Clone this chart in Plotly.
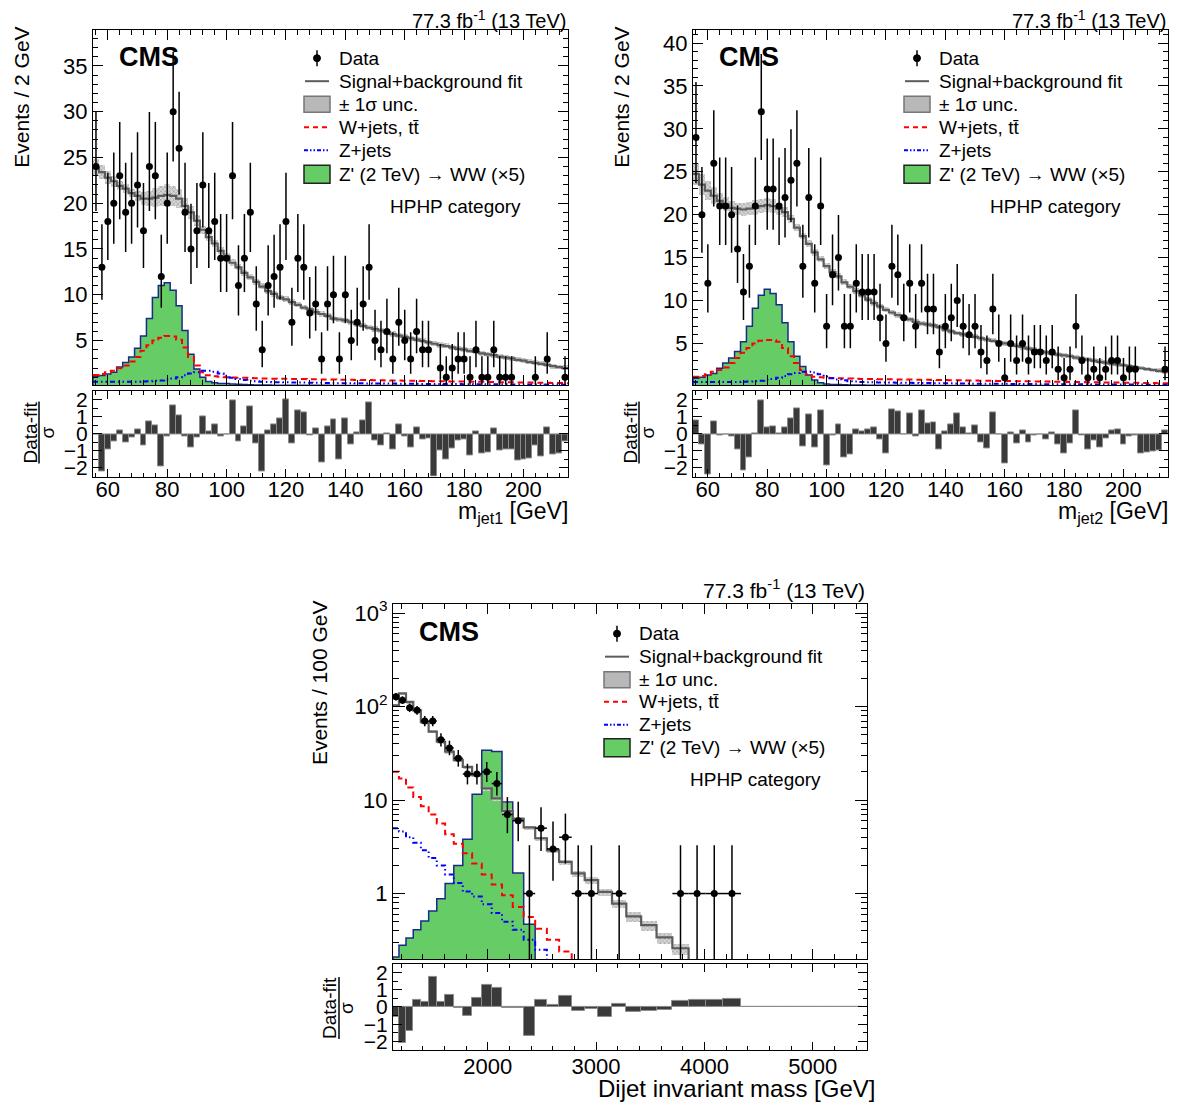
import math
import plotly.graph_objects as go

W, H = 1180, 1106
PADX = 8                    # horizontal page offset of the figure
SY, OY = 0.991, 14          # measured vertical mapping of the photographed page
FW, FH = W - 2 * PADX, 1100
FONT = "Liberation Sans, Arial, Helvetica, sans-serif"

# ---------------- top panels: m_jet in 2 GeV bins, 55-215 GeV ----------------
MJ_LO, MJ_BW, MJ_N = 55, 2, 80

tl_data = [24, 13, 18, 20, 23, 19, 20, 22, 17, 24,
           23, 12, 20, 30, 26, 19, 15, 17, 22, 17,
           18, 14, 14, 23, 11, 14, 19, 9, 4, 11,
           12, 13, 18, 7, 14, 13, 8, 9, 3, 9,
           10, 3, 10, 5, 7, 9, 13, 5, 4, 6,
           3, 7, 5, 3, 6, 4, 4, 0, 2, 1,
           2, 3, 3, 1, 4, 1, 1, 4, 1, 1,
           1, 0, 0, 0, 1, 0, 3, 0, 0, 1]
tl_fit = [23.9, 23.4, 22.8, 22.4, 21.9, 21.6, 21.1, 20.8, 20.5, 20.5,
          20.6, 20.8, 20.9, 20.8, 20.5, 19.7, 19.0, 18.1, 17.1, 16.3,
          15.6, 14.8, 14.2, 13.5, 13.0, 12.4, 11.9, 11.4, 10.9, 10.4,
          10.1, 9.7, 9.5, 9.2, 8.9, 8.6, 8.4, 8.1, 7.9, 7.7,
          7.4, 7.3, 7.2, 7.0, 6.8, 6.6, 6.4, 6.25, 6.1, 5.9,
          5.7, 5.55, 5.4, 5.25, 5.1, 4.95, 4.8, 4.65, 4.5, 4.4,
          4.25, 4.1, 4.0, 3.85, 3.75, 3.6, 3.5, 3.4, 3.25, 3.15,
          3.05, 2.9, 2.8, 2.65, 2.55, 2.45, 2.35, 2.2, 2.1, 2.0]
tl_unc = [0.9, 0.8, 0.7, 0.6, 0.5, 0.45, 0.45, 0.55, 0.7, 0.85,
          1.0, 1.1, 1.15, 1.1, 1.0, 0.85, 0.7, 0.55, 0.45, 0.4,
          0.38, 0.36, 0.35, 0.35, 0.34, 0.34, 0.33, 0.33, 0.32, 0.32,
          0.32, 0.31, 0.31, 0.31, 0.3, 0.3, 0.3, 0.3, 0.29, 0.29,
          0.29, 0.29, 0.28, 0.28, 0.28, 0.28, 0.28, 0.28, 0.28, 0.28,
          0.28, 0.28, 0.28, 0.28, 0.28, 0.28, 0.28, 0.28, 0.28, 0.28,
          0.27, 0.27, 0.27, 0.27, 0.27, 0.27, 0.27, 0.27, 0.27, 0.27,
          0.27, 0.27, 0.27, 0.27, 0.27, 0.27, 0.27, 0.27, 0.27, 0.27]
tl_sig = [1.1, 1.18, 1.36, 1.55, 2.1, 2.6, 3.2, 4.15, 5.5, 7.4,
          9.7, 11.0, 11.3, 10.5, 8.8, 6.1, 3.5, 1.9, 1.0, 0.52,
          0.4, 0.3, 0.3, 0.25, 0.22, 0.2, 0.18, 0.16, 0.15, 0.14,
          0.12, 0.12, 0.12, 0.12, 0.12, 0.12, 0.12, 0.12, 0.12, 0.12,
          0.1, 0.1, 0.1, 0.1, 0.1, 0.1, 0.1, 0.1, 0.1, 0.1,
          0.08, 0.08, 0.08, 0.08, 0.08, 0.08, 0.08, 0.08, 0.08, 0.08,
          0.06, 0.06, 0.06, 0.06, 0.06, 0.06, 0.06, 0.06, 0.06, 0.06,
          0.05, 0.05, 0.05, 0.05, 0.05, 0.05, 0.05, 0.05, 0.05, 0.05]
tl_wjets = [1.25, 1.36, 1.55, 1.7, 1.98, 2.27, 2.7, 3.2, 3.9, 4.5,
            5.0, 5.3, 5.5, 5.45, 5.1, 4.25, 3.2, 2.27, 1.55, 1.2,
            1.1, 1.05, 1.0, 0.97, 0.95, 0.93, 0.9, 0.88, 0.86, 0.85,
            0.84, 0.83, 0.82, 0.81, 0.8, 0.79, 0.78, 0.77, 0.76, 0.75,
            0.74, 0.73, 0.72, 0.71, 0.7, 0.69, 0.68, 0.67, 0.66, 0.65,
            0.64, 0.63, 0.62, 0.61, 0.6, 0.59, 0.58, 0.57, 0.56, 0.55,
            0.54, 0.53, 0.52, 0.51, 0.5, 0.49, 0.48, 0.47, 0.46, 0.45,
            0.44, 0.43, 0.42, 0.41, 0.4, 0.39, 0.38, 0.37, 0.36, 0.35]
tl_zjets = [0.5, 0.5, 0.5, 0.5, 0.5, 0.5, 0.5, 0.5, 0.52, 0.55,
            0.6, 0.65, 0.75, 0.85, 1.0, 1.2, 1.4, 1.55, 1.7, 1.7,
            1.6, 1.4, 1.15, 0.95, 0.8, 0.7, 0.6, 0.55, 0.5, 0.48,
            0.46, 0.45, 0.44, 0.43, 0.42, 0.41, 0.4, 0.39, 0.38, 0.37,
            0.36, 0.35, 0.35, 0.34, 0.33, 0.33, 0.32, 0.31, 0.31, 0.3,
            0.3, 0.29, 0.29, 0.28, 0.28, 0.27, 0.27, 0.26, 0.26, 0.25,
            0.25, 0.25, 0.24, 0.24, 0.23, 0.23, 0.23, 0.22, 0.22, 0.22,
            0.21, 0.21, 0.21, 0.2, 0.2, 0.2, 0.19, 0.19, 0.19, 0.18]
tl_pull = [0.0, -2.21, -0.90, -0.43, 0.23, -0.48, -0.20, 0.26, -0.67, 0.72,
           0.50, -1.93, -0.16, 1.68, 1.08, -0.13, -0.81, -0.21, 1.05, 0.17,
           0.57, -0.17, -0.04, 1.99, -0.45, 0.43, 1.64, -0.58, -2.18, 0.18,
           0.56, 0.93, 2.02, -0.58, 1.38, 1.24, -0.10, 0.31, -1.68, 0.44,
           0.84, -1.47, 0.90, -0.59, 0.08, 0.82, 1.85, -0.37, -0.66, 0.04,
           -0.92, 0.56, -0.12, -0.77, 0.38, -0.30, -0.25, -2.5, -0.95, -1.48,
           -0.85, -0.38, -0.34, -1.24, 0.13, -1.13, -1.09, 0.31, -0.98, -0.93,
           -0.89, -1.58, -1.52, -1.44, -0.67, -1.33, 0.40, -1.20, -1.14, -0.43]

tr_data = [29, 20, 12, 26, 21, 21, 20, 16, 11, 14,
           21, 32, 23, 23, 21, 22, 24, 26, 14, 22,
           12, 21, 7, 13, 15, 7, 7, 12, 11, 11,
           11, 8, 5, 14, 13, 8, 12, 7, 12, 9,
           9, 4, 7, 8, 10, 7, 6, 7, 4, 3,
           9, 5, 1, 5, 3, 5, 3, 4, 4, 3,
           4, 2, 1, 2, 7, 3, 1, 2, 1, 2,
           3, 3, 1, 2, 2, 0, 0, 0, 0, 2]
tr_fit = [24.75, 23.5, 22.8, 22.2, 21.6, 21.2, 20.8, 20.7, 20.6, 20.7,
          20.8, 21.0, 21.1, 21.0, 20.7, 20.3, 19.5, 18.5, 17.5, 16.6,
          15.6, 14.8, 14.0, 13.3, 12.8, 12.1, 11.6, 11.1, 10.6, 10.1,
          9.7, 9.3, 8.9, 8.6, 8.3, 8.0, 7.8, 7.5, 7.3, 7.2,
          7.1, 6.9, 6.6, 6.4, 6.2, 6.05, 5.9, 5.75, 5.6, 5.45,
          5.3, 5.15, 5.0, 4.85, 4.7, 4.55, 4.4, 4.25, 4.1, 3.95,
          3.8, 3.7, 3.6, 3.5, 3.35, 3.2, 3.1, 3.0, 2.85, 2.75,
          2.65, 2.55, 2.45, 2.35, 2.2, 2.1, 2.0, 1.9, 1.8, 1.7]
tr_unc = [1.3, 1.2, 1.1, 1.0, 0.9, 0.8, 0.75, 0.7, 0.75, 0.8,
          0.85, 0.85, 0.85, 0.8, 0.7, 0.6, 0.5, 0.45, 0.4, 0.4,
          0.38, 0.36, 0.35, 0.35, 0.34, 0.34, 0.33, 0.33, 0.32, 0.32,
          0.32, 0.31, 0.31, 0.31, 0.3, 0.3, 0.3, 0.3, 0.29, 0.29,
          0.29, 0.29, 0.28, 0.28, 0.28, 0.28, 0.28, 0.28, 0.28, 0.28,
          0.28, 0.28, 0.28, 0.28, 0.28, 0.28, 0.28, 0.28, 0.28, 0.28,
          0.27, 0.27, 0.27, 0.27, 0.27, 0.27, 0.27, 0.27, 0.27, 0.27,
          0.27, 0.27, 0.27, 0.27, 0.27, 0.27, 0.27, 0.27, 0.27, 0.27]
tr_sig = [0.94, 1.05, 1.32, 1.5, 2.1, 2.7, 3.3, 4.05, 5.2, 7.0,
          9.1, 10.6, 11.3, 10.8, 9.5, 7.4, 5.2, 3.5, 2.3, 1.32,
          0.74, 0.4, 0.27, 0.22, 0.2, 0.18, 0.16, 0.15, 0.14, 0.13,
          0.12, 0.12, 0.12, 0.12, 0.12, 0.12, 0.12, 0.12, 0.12, 0.12,
          0.1, 0.1, 0.1, 0.1, 0.1, 0.1, 0.1, 0.1, 0.1, 0.1,
          0.08, 0.08, 0.08, 0.08, 0.08, 0.08, 0.08, 0.08, 0.08, 0.08,
          0.06, 0.06, 0.06, 0.06, 0.06, 0.06, 0.06, 0.06, 0.06, 0.06,
          0.05, 0.05, 0.05, 0.05, 0.05, 0.05, 0.05, 0.05, 0.05, 0.05]
tr_wjets = [1.1, 1.2, 1.4, 1.7, 1.9, 2.2, 2.7, 3.3, 3.9, 4.45,
            5.0, 5.3, 5.4, 5.4, 5.2, 4.45, 3.5, 2.7, 1.9, 1.4,
            1.1, 1.05, 1.0, 0.97, 0.95, 0.93, 0.9, 0.88, 0.86, 0.85,
            0.84, 0.83, 0.82, 0.81, 0.8, 0.79, 0.78, 0.77, 0.76, 0.75,
            0.74, 0.73, 0.72, 0.71, 0.7, 0.69, 0.68, 0.67, 0.66, 0.65,
            0.64, 0.63, 0.62, 0.61, 0.6, 0.59, 0.58, 0.57, 0.56, 0.55,
            0.54, 0.53, 0.52, 0.51, 0.5, 0.49, 0.48, 0.47, 0.46, 0.45,
            0.44, 0.43, 0.42, 0.41, 0.4, 0.39, 0.38, 0.37, 0.36, 0.35]
tr_zjets = [0.5, 0.5, 0.5, 0.5, 0.5, 0.5, 0.5, 0.5, 0.52, 0.55,
            0.6, 0.65, 0.75, 0.85, 1.0, 1.2, 1.4, 1.55, 1.7, 1.7,
            1.6, 1.4, 1.15, 0.95, 0.8, 0.7, 0.6, 0.55, 0.5, 0.48,
            0.46, 0.45, 0.44, 0.43, 0.42, 0.41, 0.4, 0.39, 0.38, 0.37,
            0.36, 0.35, 0.35, 0.34, 0.33, 0.33, 0.32, 0.31, 0.31, 0.3,
            0.3, 0.29, 0.29, 0.28, 0.28, 0.27, 0.27, 0.26, 0.26, 0.25,
            0.25, 0.25, 0.24, 0.24, 0.23, 0.23, 0.23, 0.22, 0.22, 0.22,
            0.21, 0.21, 0.21, 0.2, 0.2, 0.2, 0.19, 0.19, 0.19, 0.18]
tr_pull = [0.79, -0.63, -2.37, 0.75, -0.11, -0.04, -0.14, -0.93, -2.17, -1.39,
           0.04, 1.95, 0.40, 0.42, 0.06, 0.36, 0.92, 1.48, -0.72, 1.16,
           -0.79, 1.36, -1.86, -0.06, 0.57, -1.35, -1.22, 0.26, 0.12, 0.28,
           0.40, -0.33, -1.15, 1.46, 1.32, 0.0, 1.23, -0.13, 1.37, 0.61,
           0.65, -0.92, 0.16, 0.58, 1.22, 0.37, 0.04, 0.48, -0.51, -0.84,
           1.26, -0.04, -1.74, 0.07, -0.58, 0.21, -0.48, -0.08, -0.03, -0.33,
           0.10, -0.64, -1.13, -0.57, 1.41, -0.07, -0.91, -0.38, -0.80, -0.28,
           0.21, 0.28, -0.63, -0.13, -0.08, -1.14, -1.09, -1.03, -0.98, 0.23]

# ---------------- bottom panel: dijet invariant mass ----------------
mjj_edges = [1126, 1181, 1246, 1313, 1383, 1455, 1530, 1607, 1687, 1770,
             1856, 1945, 2037, 2132, 2231, 2332, 2438, 2546, 2659, 2775,
             2895, 3019, 3147, 3279, 3416, 3558, 3704, 3854, 4010, 4171,
             4337, 4509, 4686, 4869, 5058, 5253, 5455]
bt_data = [127, 117, 97, 91, 70, 70, 44, 36, 28, 19,
           19, 20, 15, 7, 6, 1, 5, 3, 4, 1,
           1, 0, 1, 0, 0, 0, 1, 1, 1, 1,
           0, 0, 0, 0, 0, 0]
bt_fit = [103, 138, 112, 91, 68, 54, 42, 33, 26.7, 22.6,
          18.4, 13.3, 10.4, 7.65, 6.3, 5.1, 3.9, 2.9, 2.18, 1.64,
          1.39, 1.04, 0.78, 0.57, 0.46, 0.34, 0.26, 0.15, 0.11, 0.08,
          0.06, 0.04, 0.03, 0.02, 0.015, 0.01]
bt_unc = [4, 4, 3.5, 3, 2.4, 2, 1.6, 1.3, 1.0, 0.9,
          0.7, 0.55, 0.45, 0.35, 0.3, 0.25, 0.2, 0.17, 0.14, 0.12,
          0.11, 0.09, 0.08, 0.065, 0.055, 0.045, 0.035, 0.02, 0.015, 0.012,
          0.01, 0.008, 0.006, 0.004, 0.003, 0.002]
bt_sig = [0.21, 0.28, 0.335, 0.41, 0.51, 0.65, 0.88, 1.28, 2.0, 3.8,
          11.5, 34, 33, 9.5, 1.66, 0.47, 0, 0, 0, 0,
          0, 0, 0, 0, 0, 0, 0, 0, 0, 0,
          0, 0, 0, 0, 0, 0]
bt_wjets = [20, 17, 13.6, 10.8, 8.6, 7.0, 5.6, 4.3, 3.4, 2.7,
            2.1, 1.6, 1.25, 0.96, 0.72, 0.56, 0.42, 0.32, 0.24, 0.17,
            0.12, 0.09, 0.07, 0.05, 0.04, 0.03, 0.02, 0.015, 0.01, 0.008,
            0.006, 0.005, 0.004, 0.003, 0.002, 0.002]
bt_zjets = [5.0, 4.6, 4.0, 3.5, 2.9, 2.4, 2.0, 1.6, 1.3, 1.05,
            0.93, 0.77, 0.62, 0.5, 0.41, 0.32, 0.25, 0.17, 0.12, 0.08,
            0.06, 0.04, 0.03, 0.02, 0.015, 0.01, 0.008, 0.006, 0.005, 0.004,
            0.003, 0.002, 0.002, 0.001, 0.001, 0.001]
bt_pull = [-0.6, -2.06, -1.37, 0.43, 0.3, 1.76, 0.3, 0.7, -0.05, -0.5,
           0.5, 1.3, 1.08, -0.06, -0.06, -1.67, 0.43, 0.1, 0.63, -0.25,
           -0.14, -0.55, 0.16, -0.29, -0.24, -0.18, 0.35, 0.41, 0.43, 0.45,
           -0.02, -0.02, -0.02, -0.02, -0.02, -0.02]

lumi_text = "77.3 fb<sup>-1</sup> (13 TeV)"
legend_labels = ["Data", "Signal+background fit", "\u00b1 1\u03c3 unc.",
                 "W+jets, tt\u0304", "Z+jets", "Z' (2 TeV) \u2192 WW (\u00d75)"]

GREEN = "#66cc66"
SIGLINE = "#1a2a8a"
FITCOL = "#5c5c5c"


def X(p):
    return (p - PADX) / FW


def Y(p):
    return 1 - (p / SY - OY) / FH


def garwood(n):
    if n == 0:
        lo = 0.0
    else:
        lo = n * (1 - 1 / (9 * n) - 1 / (3 * math.sqrt(n))) ** 3
    m = n + 1
    hi = m * (1 - 1 / (9 * m) + 1 / (3 * math.sqrt(m))) ** 3
    return n - lo, hi - n


fig = go.Figure()


def add_panel(edges, data, fit, unc, sig, wj, zj, pull, ax_main, ax_ratio, log=False, xerr=False):
    xm, ym = ax_main
    xr, yr = ax_ratio
    centers = [(edges[i] + edges[i + 1]) / 2 for i in range(len(data))]
    widths = [edges[i + 1] - edges[i] for i in range(len(data))]
    floor = 1e-4 if log else 0

    sc = [c for c, s in zip(centers, sig) if s > 0]
    sw = [w for w, s in zip(widths, sig) if s > 0]
    sv = [s for s in sig if s > 0]
    fig.add_trace(go.Bar(x=sc, y=sv, width=sw, marker=dict(color=GREEN, line=dict(width=0)),
                         xaxis=xm, yaxis=ym, showlegend=False, hoverinfo="skip"))
    sig_plot = [s if s > 0 else floor for s in sig]
    fig.add_trace(go.Scatter(x=[edges[0]] + list(edges), y=[floor] + sig_plot + [sig_plot[-1]],
                             mode="lines", line=dict(color=SIGLINE, width=1.5, shape="hv"),
                             xaxis=xm, yaxis=ym, showlegend=False, hoverinfo="skip"))
    fig.add_trace(go.Scatter(x=list(edges), y=list(wj) + [wj[-1]], mode="lines",
                             line=dict(color="#ff0000", width=2, dash="6px,4px", shape="hv"),
                             xaxis=xm, yaxis=ym, showlegend=False, hoverinfo="skip"))
    fig.add_trace(go.Scatter(x=list(edges), y=list(zj) + [zj[-1]], mode="lines",
                             line=dict(color="#0000ff", width=2, dash="5px,3px,1.5px,3px,1.5px,3px", shape="hv"),
                             xaxis=xm, yaxis=ym, showlegend=False, hoverinfo="skip"))
    fig.add_trace(go.Bar(x=centers, y=[2 * u for u in unc], base=[f - u for f, u in zip(fit, unc)],
                         width=widths,
                         marker=dict(color="#9a9a9a", line=dict(width=0),
                                     pattern=dict(shape="x", fgcolor="#7a7a7a", bgcolor="#d8d8d8",
                                                  size=3, solidity=0.45)),
                         xaxis=xm, yaxis=ym, showlegend=False, hoverinfo="skip"))
    fig.add_trace(go.Scatter(x=list(edges), y=list(fit) + [fit[-1]], mode="lines",
                             line=dict(color=FITCOL, width=2.2, shape="hv"),
                             xaxis=xm, yaxis=ym, showlegend=False, hoverinfo="skip"))
    dx, dy, ep, em, ex = [], [], [], [], []
    for c, w, n in zip(centers, widths, data):
        if n <= 0:
            continue
        lo, hi = garwood(n)
        dx.append(c)
        dy.append(n)
        ep.append(hi)
        em.append(lo)
        ex.append(w / 2)
    fig.add_trace(go.Scatter(x=dx, y=dy, mode="markers",
                             marker=dict(color="black", size=7, symbol="circle"),
                             error_y=dict(type="data", array=ep, arrayminus=em, color="black",
                                          thickness=1.5, width=0, symmetric=False),
                             error_x=(dict(type="data", array=ex, color="black", thickness=1.5, width=0)
                                      if xerr else dict(visible=False)),
                             xaxis=xm, yaxis=ym, showlegend=False, hoverinfo="skip"))
    fig.add_trace(go.Bar(x=centers, y=pull, width=widths,
                         marker=dict(color="#3a3a3a", line=dict(color="#8a8a8a", width=1)),
                         xaxis=xr, yaxis=yr, showlegend=False, hoverinfo="skip"))


tl_edges = [MJ_LO + MJ_BW * i for i in range(MJ_N + 1)]

add_panel(tl_edges, tl_data, tl_fit, tl_unc, tl_sig, tl_wjets, tl_zjets, tl_pull, ("x", "y"), ("x2", "y2"))
add_panel(tl_edges, tr_data, tr_fit, tr_unc, tr_sig, tr_wjets, tr_zjets, tr_pull, ("x3", "y3"), ("x4", "y4"))
add_panel(mjj_edges, bt_data, bt_fit, bt_unc, bt_sig, bt_wjets, bt_zjets, bt_pull, ("x5", "y5"), ("x6", "y6"),
          log=True, xerr=True)

common = dict(showline=True, linecolor="black", linewidth=1, mirror="allticks", ticks="inside",
              showgrid=False, zeroline=False, tickcolor="black",
              tickfont=dict(family=FONT, size=22, color="black"))


def xaxis(domain, anchor, rng, dtick, minor, labels, ticklen, standoff=0):
    d = dict(common)
    d.update(domain=domain, anchor=anchor, range=rng, dtick=dtick, tick0=0,
             showticklabels=labels, ticklen=ticklen, ticklabelstandoff=standoff,
             minor=dict(ticks="inside", ticklen=ticklen / 2, dtick=minor, tickcolor="black", showgrid=False))
    return d


def lin_yaxis(domain, anchor, rng, tickvals, minor, ticklen=10, size=22):
    d = dict(common)
    d.update(domain=domain, anchor=anchor, range=rng, tickmode="array", tickvals=tickvals,
             ticklen=ticklen, tickfont=dict(family=FONT, size=size, color="black"),
             minor=dict(ticks="inside", ticklen=ticklen / 2, dtick=minor, tick0=0, tickcolor="black",
                        showgrid=False))
    return d


TLX = [X(93), X(568)]
TRX = [X(693), X(1168)]
BX = [X(393), X(867)]
TOPMAIN = [Y(385), Y(30)]
TOPRAT = [Y(476), Y(391)]
BMAIN = [Y(958), Y(603)]
BRAT = [Y(1049), Y(963)]

minor_log = [0.2, 0.3, 0.4, 0.5, 0.6, 0.7, 0.8, 0.9, 2, 3, 4, 5, 6, 7, 8, 9,
             20, 30, 40, 50, 60, 70, 80, 90, 200, 300, 400, 500, 600, 700, 800, 900]

ylog = dict(common)
ylog.update(domain=BMAIN, anchor="x5", type="log", range=[math.log10(0.2), math.log10(1260)],
            tickmode="array", tickvals=[1, 10, 100, 1000],
            ticktext=["1", "10", "10<sup>2</sup>", "10<sup>3</sup>"], ticklen=12,
            minor=dict(ticks="inside", ticklen=6, tickvals=minor_log, tickcolor="black", showgrid=False))

fig.update_layout(
    width=FW, height=FH, margin=dict(l=0, r=0, t=0, b=0), autosize=False,
    paper_bgcolor="white", plot_bgcolor="white", barmode="overlay", bargap=0,
    showlegend=False,
    font=dict(family=FONT, color="black"),
    xaxis=xaxis(TLX, "y", [55, 215], 20, 4, False, 10),
    yaxis=lin_yaxis(TOPMAIN, "x", [0.1, 38.9], [5, 10, 15, 20, 25, 30, 35], 1),
    xaxis2=xaxis(TLX, "y2", [55, 215], 20, 4, True, 8, -7),
    yaxis2=lin_yaxis(TOPRAT, "x2", [-2.5, 2.5], [-2, -1, 0, 1, 2], 0.5, 9, 21),
    xaxis3=xaxis(TRX, "y3", [55, 215], 20, 4, False, 10),
    yaxis3=lin_yaxis(TOPMAIN, "x3", [0.1, 41.5], [5, 10, 15, 20, 25, 30, 35, 40], 1),
    xaxis4=xaxis(TRX, "y4", [55, 215], 20, 4, True, 8, -7),
    yaxis4=lin_yaxis(TOPRAT, "x4", [-2.5, 2.5], [-2, -1, 0, 1, 2], 0.5, 9, 21),
    xaxis5=xaxis(BX, "y5", [1126, 5500], 1000, 200, False, 10),
    yaxis5=ylog,
    xaxis6=xaxis(BX, "y6", [1126, 5500], 1000, 200, True, 8, -3),
    yaxis6=lin_yaxis(BRAT, "x6", [-2.5, 2.5], [-2, -1, 0, 1, 2], 0.5, 9, 21),
)

annotations = []
shapes = []


def text(x, y, s, size=19, xanchor="left", yanchor="middle", angle=0, bold=False):
    annotations.append(dict(x=X(x), y=Y(y), xref="paper", yref="paper", text=("<b>%s</b>" % s if bold else s),
                            showarrow=False, xanchor=xanchor, yanchor=yanchor, textangle=angle,
                            font=dict(family=FONT, size=size, color="black")))


def line(x0, y0, x1, y1, color, width=2, dash="solid"):
    shapes.append(dict(type="line", xref="paper", yref="paper", x0=X(x0), y0=Y(y0), x1=X(x1), y1=Y(y1),
                       line=dict(color=color, width=width, dash=dash)))


def rect(x0, y0, x1, y1, fill, lc, lw=1):
    shapes.append(dict(type="rect", xref="paper", yref="paper", x0=X(x0), y0=Y(y0), x1=X(x1), y1=Y(y1),
                       fillcolor=fill, line=dict(color=lc, width=lw)))


def panel_decor(left, right, top, cx, tx, rows, hp, cms, ytitle, xtitle, xtitle_y, xtitle_r, xtitle_size,
                rat_mid, ytitle_x, lumi_y, lumi_size):
    y0 = rows[0]
    line(cx, y0 - 8, cx, y0 + 8, "black", 1.5)
    shapes.append(dict(type="circle", xref="paper", yref="paper", x0=X(cx - 3.5), x1=X(cx + 3.5),
                       y0=Y(y0 + 3.5), y1=Y(y0 - 3.5), fillcolor="black", line=dict(color="black", width=1)))
    line(cx - 12, rows[1], cx + 12, rows[1], FITCOL, 2)
    rect(cx - 13, rows[2] - 8, cx + 13, rows[2] + 8, "#b8b8b8", "#777777", 1.5)
    line(cx - 13, rows[3], cx + 13, rows[3], "#ff0000", 2, "5px,4px")
    line(cx - 13, rows[4], cx + 13, rows[4], "#0000ff", 2, "4px,2px,1.5px,2px,1.5px,2px")
    rect(cx - 13, rows[5] - 9, cx + 13, rows[5] + 9, GREEN, "#222222", 1.5)
    for r, lab in zip(rows, legend_labels):
        text(tx, r, lab, 19)
    text(hp[0], hp[1], "HPHP category", 19, xanchor="right")
    text(cms[0], cms[1], "CMS", 27, bold=True)
    text(right, lumi_y, lumi_text, lumi_size, xanchor="right")
    text(ytitle_x, top - 5, ytitle, 21, xanchor="center", yanchor="top", angle=-90)
    text(xtitle_r, xtitle_y, xtitle, xtitle_size, xanchor="right")
    text(left - 63, rat_mid, "Data-fit", 19, xanchor="center", angle=-90)
    text(left - 46, rat_mid, "\u03c3", 19, xanchor="center", angle=-90)
    line(left - 54, rat_mid - 31, left - 54, rat_mid + 31, "black", 1.5)


panel_decor(93, 568, 30, 317, 337, [58, 81, 104, 127, 150, 174], (523, 206), (117, 57),
            "Events / 2 GeV", "m<sub>jet1</sub> [GeV]", 512, 570, 23, 432, 22, 19, 20)
panel_decor(693, 1168, 30, 917, 937, [58, 81, 104, 127, 150, 174], (1123, 206), (717, 57),
            "Events / 2 GeV", "m<sub>jet2</sub> [GeV]", 512, 1170, 23, 432, 622, 19, 20)
panel_decor(393, 867, 603, 617, 637, [633, 656, 679, 701, 724, 747], (823, 779), (417, 631),
            "Events / 100 GeV", "Dijet invariant mass [GeV]", 1087, 877, 24, 1007, 319, 588, 21)

fig.update_layout(annotations=annotations, shapes=shapes)
fig.write_html("out.html")
